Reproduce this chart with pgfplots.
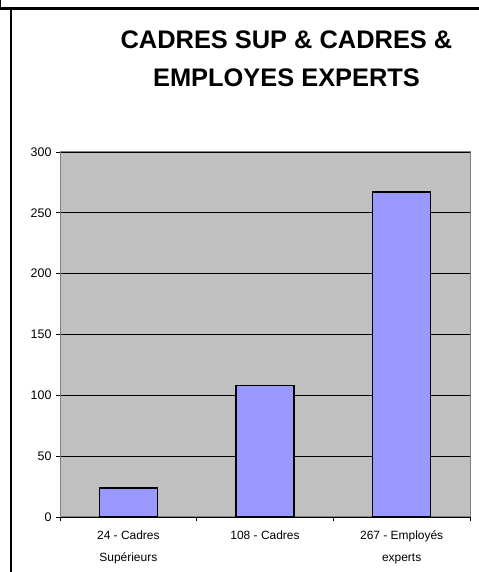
\documentclass[border=0pt]{standalone}
\usepackage{fontspec}
\setmainfont{Liberation Sans}
\usepackage{pgfplots}
\pgfplotsset{compat=1.18}
\definecolor{barblue}{HTML}{9999FF}
\definecolor{plotgray}{HTML}{C0C0C0}
\definecolor{edgegray}{HTML}{808080}
\begin{document}
\begin{tikzpicture}[x=1bp,y=1bp]
\useasboundingbox (0,0) rectangle (479,572);
\fill[white] (0,0) rectangle (479,572);
\draw[line width=3bp] (0,563.5) -- (479,563.5);
\draw[line width=2bp] (11,0) -- (11,565);
\draw[line width=1bp] (0.5,572) -- (0.5,562);
\begin{axis}[
  at={(60bp,55bp)}, anchor=south west,
  width=410bp, height=365bp, scale only axis,
  xmin=0, xmax=3, ymin=0, ymax=300,
  axis background/.style={fill=plotgray},
  axis line style={draw=edgegray, line width=1bp},
  ytick={0,50,...,300},
  yticklabels={0,50,100,150,200,250,300},
  ymajorgrids, grid style={black, line width=0.8bp},
  xtick={0,1,2,3}, xticklabels={},
  extra x ticks={0.5,1.5,2.5},
  extra x tick labels={{24 - Cadres\\Supérieurs},{108 - Cadres},{267 - Employés\\experts}},
  extra x tick style={major tick length=0pt, grid=none},
  xticklabel style={align=center, font=\fontsize{12}{22}\selectfont, yshift=-10bp},
  yticklabel style={font=\fontsize{12.5}{15}\selectfont, xshift=-1bp},
  tick align=outside, tick pos=left,
  major tick length=4bp,
  tick style={black, line width=0.8bp},
  ybar, bar width=58bp,
  clip=false,
]
\addplot[fill=barblue, draw=black, line width=1.5bp] coordinates {(0.5,24) (1.5,108) (2.5,267)};
\end{axis}
\node[align=center, font=\bfseries\fontsize{25.5}{38}\selectfont] at (286.5,513) {CADRES SUP \& CADRES \&\\EMPLOYES EXPERTS};
\end{tikzpicture}
\end{document}
